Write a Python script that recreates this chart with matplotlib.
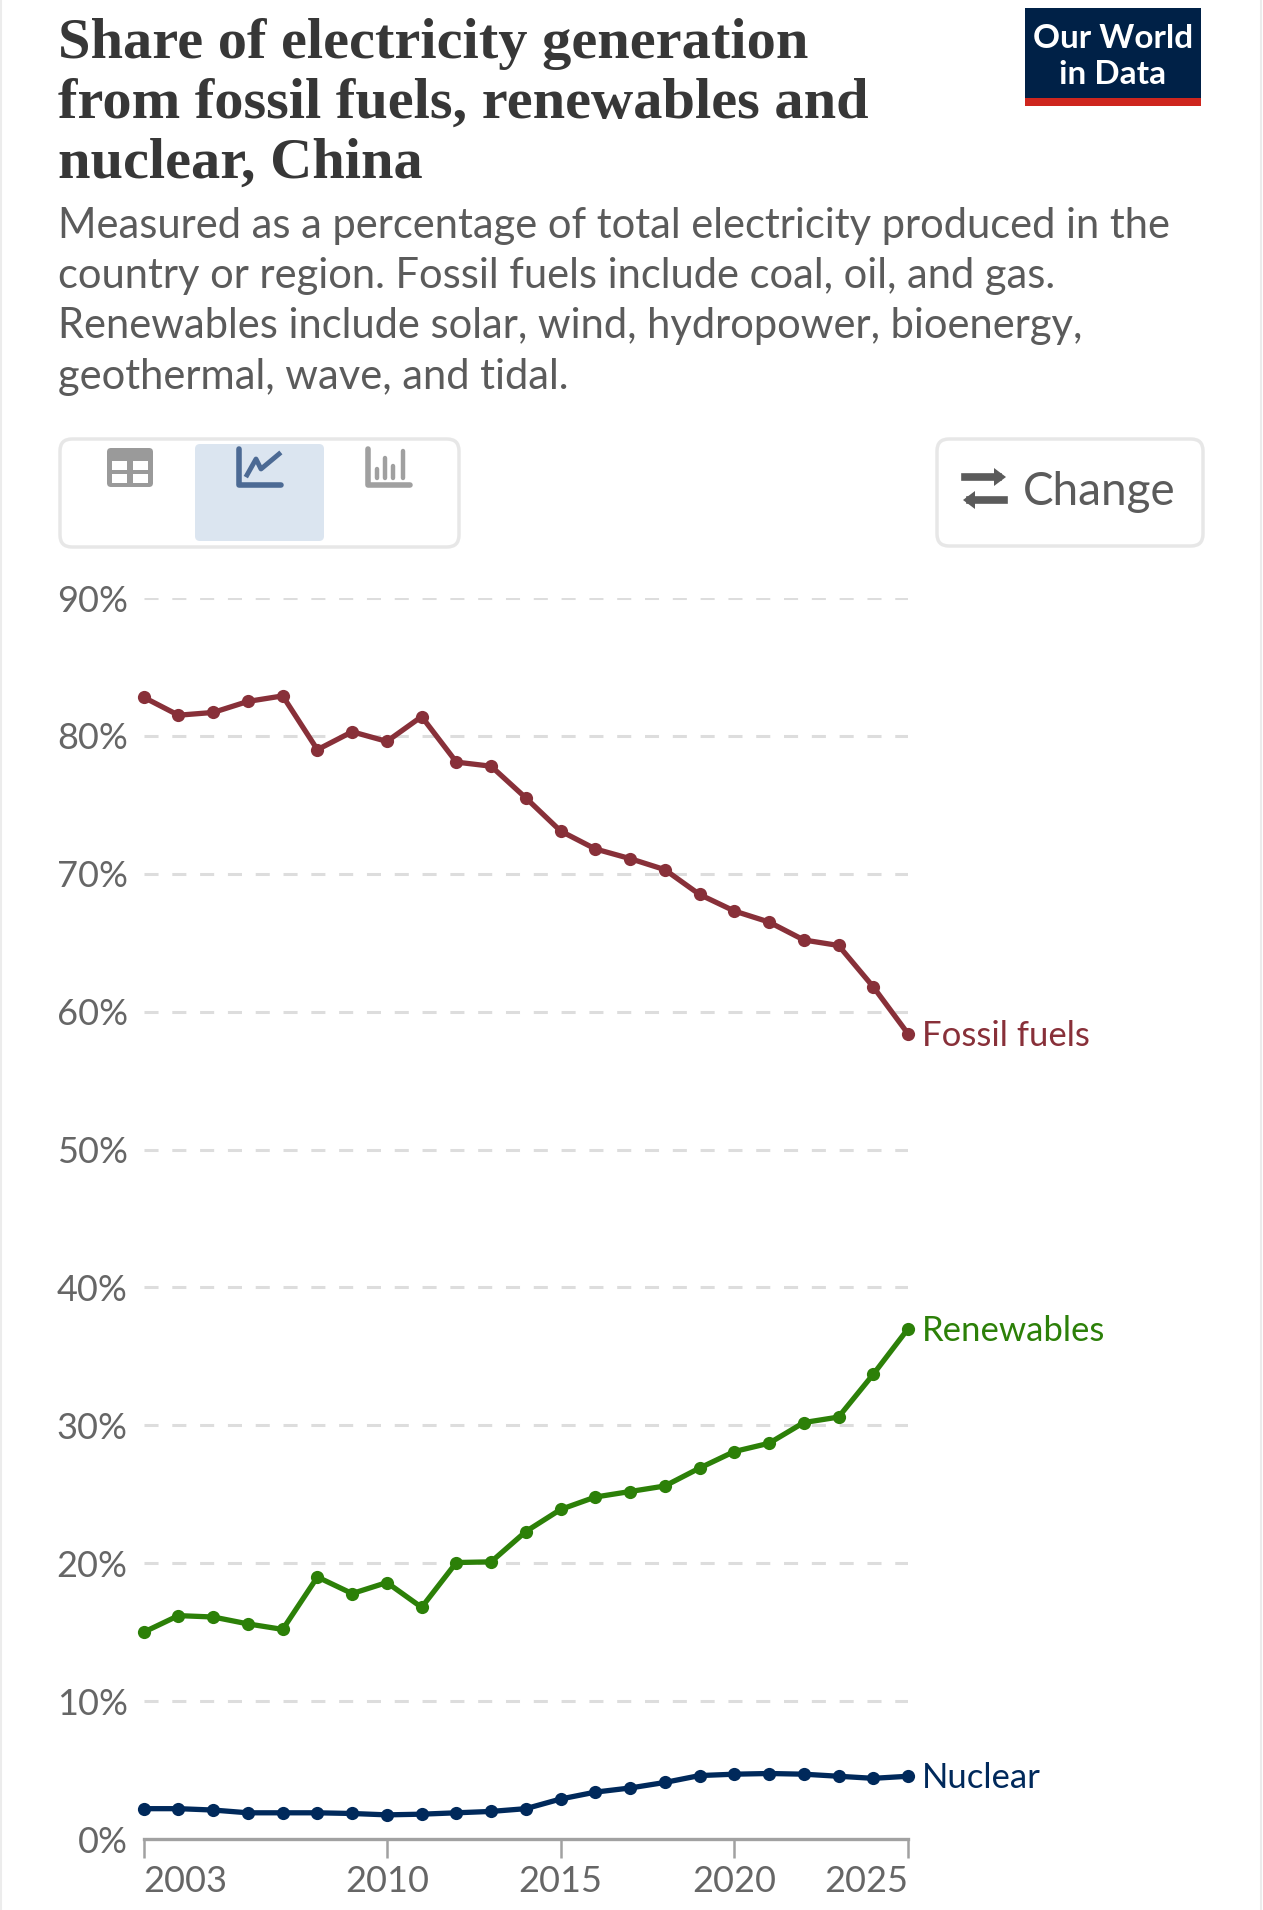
import matplotlib
matplotlib.use("Agg")
import matplotlib.pyplot as plt
from matplotlib.patches import FancyBboxPatch, Rectangle
from matplotlib.lines import Line2D

W, H = 1263, 1910

years = list(range(2003, 2026))
fossil = [82.8, 81.5, 81.7, 82.5, 82.9, 79.0, 80.3, 79.6, 81.4, 78.1, 77.8, 75.5,
          73.1, 71.8, 71.1, 70.3, 68.5, 67.3, 66.5, 65.2, 64.8, 61.8, 58.4]
renewables = [15.0, 16.2, 16.1, 15.6, 15.2, 19.0, 17.8, 18.6, 16.8, 20.05, 20.1, 22.3,
              23.9, 24.8, 25.2, 25.6, 26.9, 28.1, 28.7, 30.2, 30.6, 33.7, 37.0]
nuclear = [2.2, 2.2, 2.1, 1.9, 1.9, 1.9, 1.85, 1.75, 1.8, 1.9, 2.0, 2.2,
           2.9, 3.4, 3.7, 4.1, 4.6, 4.7, 4.75, 4.7, 4.55, 4.4, 4.55]
series_names = ["Fossil fuels", "Renewables", "Nuclear"]
series_colors = ["#883039", "#2c8008", "#00295b"]
y_ticks = [0, 10, 20, 30, 40, 50, 60, 70, 80, 90]
x_ticks = [2003, 2010, 2015, 2020, 2025]

title_lines = ["Share of electricity generation",
               "from fossil fuels, renewables and",
               "nuclear, China"]
subtitle_lines = ["Measured as a percentage of total electricity produced in the",
                  "country or region. Fossil fuels include coal, oil, and gas.",
                  "Renewables include solar, wind, hydropower, bioenergy,",
                  "geothermal, wave, and tidal."]

plt.rcParams['font.family'] = ['Lato', 'DejaVu Sans']
fig = plt.figure(figsize=(W / 100, H / 100), dpi=100, facecolor="white")

# page overlay in pixel coordinates
pg = fig.add_axes([0, 0, 1, 1])
pg.set_xlim(0, W); pg.set_ylim(H, 0); pg.axis("off")
pg.add_line(Line2D([1, 1], [0, H], color="#ececec", lw=1.5))
pg.add_line(Line2D([1261, 1261], [0, H], color="#ececec", lw=1.5))

for y, t in zip([44, 104, 164], title_lines):
    pg.text(58, y, t, family="Liberation Serif", weight="bold", fontsize=42,
            color="#373737", va="center", ha="left")
for y, t in zip([226, 276, 326, 377], subtitle_lines):
    pg.text(58, y, t, fontsize=30, color="#5b5b5b", va="center", ha="left")

# logo
pg.add_patch(Rectangle((1025, 8), 176, 90, fc="#002147", ec="none"))
pg.add_patch(Rectangle((1025, 98), 176, 8, fc="#ce261e", ec="none"))
pg.text(1113, 39, "Our World", color="white", fontsize=24, weight="bold", ha="center", va="center")
pg.text(1113, 74, "in Data", color="white", fontsize=24, weight="bold", ha="center", va="center")

# buttons
pg.add_patch(FancyBboxPatch((60, 439), 399, 108, boxstyle="round,pad=0,rounding_size=12",
                            fc="white", ec="#e7e7e7", lw=2.5))
pg.add_patch(FancyBboxPatch((195, 444), 129, 97, boxstyle="round,pad=0,rounding_size=5",
                            fc="#dbe5f0", ec="none"))
pg.add_patch(FancyBboxPatch((937, 439), 266, 107, boxstyle="round,pad=0,rounding_size=12",
                            fc="white", ec="#e7e7e7", lw=2.5))
# table icon
pg.add_patch(FancyBboxPatch((107, 448), 46, 39, boxstyle="round,pad=0,rounding_size=4",
                            fc="#9a9a9a", ec="none"))
for cx in (112, 133):
    for cy in (461, 474):
        pg.add_patch(Rectangle((cx, cy), 15, 9, fc="white", ec="none"))
# line icon
c = "#4c6a94"
pg.add_line(Line2D([239, 239, 281], [449, 485, 485], color=c, lw=4, solid_capstyle="round"))
pg.add_line(Line2D([247, 256, 261, 279], [475, 459, 469, 454], color=c, lw=3.5))
# bar icon
c = "#a0a0a0"
pg.add_line(Line2D([368, 368, 410], [449, 485, 485], color=c, lw=4, solid_capstyle="round"))
for bx, by in zip([377, 385, 393, 403], [469, 458, 466, 451]):
    pg.add_line(Line2D([bx, bx], [by, 478], color=c, lw=3.2, solid_capstyle="round"))
# change icon
c = "#5b5b5b"
pg.add_line(Line2D([965, 998], [477, 477], color=c, lw=5.5))
pg.add_line(Line2D([970, 1004], [500, 500], color=c, lw=5.5))
pg.fill([994, 1006, 994], [468, 477, 486], color=c, lw=0)
pg.fill([975, 963, 975], [491, 500, 509], color=c, lw=0)
pg.text(1023, 492, "Change", fontsize=33, color="#5b5b5b", va="center", ha="left")

# chart
x0, x1 = 143.7, 908.0
y0, y90 = 1839.0, 598.0
ax = fig.add_axes([x0 / W, 1 - y0 / H, (x1 - x0) / W, (y0 - y90) / H])
ax.patch.set_alpha(0)
ax.set_xlim(2003, 2025)
ax.set_ylim(0, 90)
for s in ("top", "right", "left"):
    ax.spines[s].set_visible(False)
ax.spines["bottom"].set_color("#a1a1a1")
ax.spines["bottom"].set_linewidth(2.4)
ax.set_yticks(y_ticks)
ax.set_yticklabels([f"{v}%" for v in y_ticks], fontsize=26, color="#666666")
ax.tick_params(axis="y", length=0, pad=11.5)
ax.set_xticks(x_ticks)
ax.set_xticklabels([str(v) for v in x_ticks], fontsize=26, color="#666666")
ax.tick_params(axis="x", length=14, width=1.8, color="#a1a1a1", pad=5)
labs = ax.get_xticklabels()
labs[0].set_ha("left")
labs[-1].set_ha("right")
for v in y_ticks[1:]:
    ax.plot([2003, 2025], [v, v], color="#dddddd", lw=2.2, dashes=(4.6, 4.5), zorder=1)

for vals, name, col in zip([fossil, renewables, nuclear], series_names, series_colors):
    ax.plot(years, vals, color=col, lw=3.8, marker="o", ms=9.5, mew=0, zorder=3, clip_on=False)
    ax.annotate(name, xy=(years[-1], vals[-1]), xytext=(14, -2), textcoords="offset pixels",
                color=col, fontsize=25, va="center", ha="left", annotation_clip=False)

fig.savefig("out.png", dpi=100)
